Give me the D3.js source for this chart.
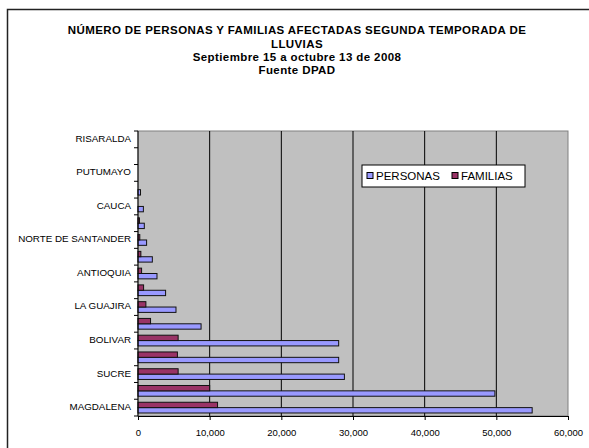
<!DOCTYPE html>
<html>
<head>
<meta charset="utf-8">
<script src="https://cdn.jsdelivr.net/npm/d3@7"></script>
<style>
  body { margin: 0; background: #fff; }
  svg { display: block; font-family: Arial, "Liberation Sans", sans-serif; }
</style>
</head>
<body>
<div id="chart"></div>
<script>
// categories, bottom to top (Excel order); blank ones have no label in the picture
let categories = ["MAGDALENA", "", "SUCRE", "", "BOLIVAR", "", "LA GUAJIRA", "",
  "ANTIOQUIA", "", "NORTE DE SANTANDER", "", "CAUCA", "", "PUTUMAYO", "", "RISARALDA"];
let personas = [55000, 49800, 28800, 28000, 28000, 8800, 5300, 3850,
  2650, 2000, 1200, 880, 750, 350, 0, 0, 0];
let familias = [11100, 10000, 5600, 5500, 5600, 1750, 1100, 780,
  500, 400, 250, 200, 0, 0, 0, 0, 0];
let series = ["PERSONAS", "FAMILIAS"];
let xTicks = [0, 10000, 20000, 30000, 40000, 50000, 60000];
let titleLines = ["NÚMERO DE PERSONAS Y FAMILIAS AFECTADAS SEGUNDA TEMPORADA DE",
  "LLUVIAS", "Septiembre 15 a octubre 13 de 2008", "Fuente DPAD"];

let colors = {
  'PERSONAS': '#9999FF',
  'FAMILIAS': '#993366'
};

let width = 589, height = 448;
//plot area
let plot = { left: 138, right: 568, top: 131, bottom: 416 };

let svg = d3.select("#chart").append("svg")
  .attr("width", width)
  .attr("height", height);

//outer chart frame (runs off the picture on the right and bottom)
svg.append("rect")
  .attr("x", 7.5).attr("y", 9.5)
  .attr("width", 600).attr("height", 460)
  .attr("fill", "white")
  .attr("stroke", "#222")
  .attr("stroke-width", 1.5);

//title
svg.append("g").selectAll("text")
  .data(titleLines)
  .enter().append("text")
  .attr("x", 297)
  .attr("y", (d, i) => [34, 48, 61, 74][i])
  .attr("text-anchor", "middle")
  .attr("font-size", "11.5px")
  .attr("letter-spacing", "0.4px")
  .attr("font-weight", "bold")
  .text(d => d);

let x = d3.scaleLinear()
  .domain([0, 60000])
  .range([plot.left, plot.right]);

let y0 = d3.scaleBand()
  .domain(d3.range(categories.length))
  .range([plot.bottom, plot.top])
  .paddingInner(0.36)
  .paddingOuter(0.18);

//FAMILIAS sits above PERSONAS inside each category
let y1 = d3.scaleBand()
  .domain(["FAMILIAS", "PERSONAS"])
  .range([0, y0.bandwidth()]);

//grey plot background
svg.append("rect")
  .attr("x", plot.left).attr("y", plot.top)
  .attr("width", plot.right - plot.left)
  .attr("height", plot.bottom - plot.top)
  .attr("fill", "#C0C0C0")
  .attr("stroke", "#808080");

//vertical gridlines
svg.append("g").selectAll("line")
  .data(xTicks.slice(1, -1))
  .enter().append("line")
  .attr("x1", d => x(d)).attr("x2", d => x(d))
  .attr("y1", plot.top).attr("y2", plot.bottom)
  .attr("stroke", "black")
  .attr("stroke-width", 1);

//bars
let rows = categories.map((c, i) => ({ i: i, PERSONAS: personas[i], FAMILIAS: familias[i] }));
let groups = svg.append("g").selectAll("g")
  .data(rows)
  .enter().append("g")
  .attr("transform", d => "translate(0," + y0(d.i) + ")");

groups.selectAll("rect")
  .data(d => series.map(s => ({ s: s, v: d[s] })).filter(e => e.v > 0))
  .enter().append("rect")
  .attr("x", x(0))
  .attr("y", d => y1(d.s))
  .attr("width", d => x(d.v) - x(0))
  .attr("height", y1.bandwidth())
  .attr("fill", d => colors[d.s])
  .attr("stroke", "#111")
  .attr("stroke-width", 1);

//x axis
let xAxis = svg.append("g")
  .attr("transform", "translate(0," + plot.bottom + ")")
  .call(d3.axisBottom(x).tickValues(xTicks).tickSize(4).tickFormat(d3.format(",")));
xAxis.select(".domain").attr("stroke", "black");
xAxis.selectAll("text").attr("font-size", "9.5px").attr("font-family", "Arial, 'Liberation Sans', sans-serif").attr("dy", "1.35em");

//y axis: ticks at category boundaries, labels at category centres
let step = (plot.bottom - plot.top) / categories.length;
let yAxis = svg.append("g");
yAxis.append("line")
  .attr("x1", plot.left).attr("x2", plot.left)
  .attr("y1", plot.top).attr("y2", plot.bottom)
  .attr("stroke", "black");
yAxis.selectAll(".tick")
  .data(d3.range(categories.length + 1))
  .enter().append("line")
  .attr("class", "tick")
  .attr("x1", plot.left - 4).attr("x2", plot.left)
  .attr("y1", d => plot.bottom - d * step).attr("y2", d => plot.bottom - d * step)
  .attr("stroke", "black");
yAxis.selectAll("text")
  .data(categories.map((c, i) => ({ c: c, i: i })).filter(d => d.c !== ""))
  .enter().append("text")
  .attr("x", plot.left - 7)
  .attr("y", d => y0(d.i) + y0.bandwidth() / 2 - 1)
  .attr("dy", "0.35em")
  .attr("text-anchor", "end")
  .attr("font-size", "9.8px")
  .text(d => d.c);

//legend
let legend = svg.append("g").attr("transform", "translate(362,165)");
legend.append("rect")
  .attr("width", 163).attr("height", 22)
  .attr("fill", "white")
  .attr("stroke", "black");
let items = legend.selectAll("g")
  .data(series)
  .enter().append("g")
  .attr("transform", (d, i) => "translate(" + [5, 90][i] + ",0)");
items.append("rect")
  .attr("y", 7.5).attr("width", 6).attr("height", 6)
  .attr("fill", d => colors[d])
  .attr("stroke", "black");
items.append("text")
  .attr("x", 9).attr("y", 15)
  .attr("font-size", "11.5px")
  .text(d => d);
</script>
</body>
</html>
